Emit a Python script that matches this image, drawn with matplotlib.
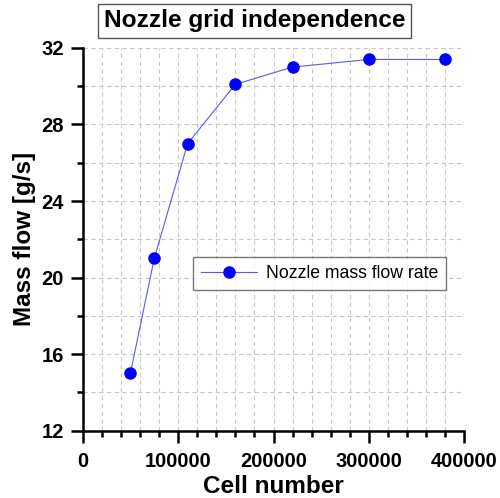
import matplotlib
matplotlib.use("Agg")
import matplotlib.pyplot as plt
from matplotlib.ticker import MultipleLocator

plt.rcParams['font.family'] = ['Liberation Sans', 'DejaVu Sans']

cells = [50000, 75000, 110000, 160000, 220000, 300000, 380000]
mass_flow = [15.0, 21.0, 27.0, 30.1, 31.0, 31.4, 31.4]

fig = plt.figure(figsize=(5.0, 4.98), dpi=100)
ax = fig.add_axes([0.1654, 0.1352, 0.7632, 0.7685])

ax.plot(cells, mass_flow, color='#5a5aee', lw=0.8, marker='o', ms=8,
        markerfacecolor='blue', markeredgecolor='blue', label='Nozzle mass flow rate',
        zorder=3)

ax.set_xlim(0, 400000)
ax.set_ylim(12, 32)
ax.xaxis.set_major_locator(MultipleLocator(100000))
ax.xaxis.set_minor_locator(MultipleLocator(20000))
ax.yaxis.set_major_locator(MultipleLocator(4))
ax.yaxis.set_minor_locator(MultipleLocator(2))

ax.grid(which='both', color='#c8c8c8', linestyle=(0, (4, 3)), lw=0.8)
ax.set_axisbelow(True)

for s in ['top', 'right']:
    ax.spines[s].set_visible(False)
for s in ['left', 'bottom']:
    ax.spines[s].set_linewidth(1.8)

ax.tick_params(which='major', direction='out', length=8.5, width=1.8, labelsize=14.5)
ax.tick_params(which='minor', direction='out', length=4.5, width=1.8)
ax.tick_params(axis='x', which='major', pad=7)
ax.tick_params(axis='y', which='major', pad=5)
for lbl in ax.get_xticklabels() + ax.get_yticklabels():
    lbl.set_fontweight('bold')

ax.set_xlabel('Cell number', fontsize=17.5, fontweight='bold', labelpad=3)
ax.set_ylabel('Mass flow [g/s]', fontsize=17.5, fontweight='bold', labelpad=4)

fig.text(0.509, 0.958, 'Nozzle grid independence', ha='center', va='center',
         fontsize=17.6, fontweight='bold',
         bbox=dict(boxstyle='square,pad=0.22', facecolor='white', edgecolor='#555555', lw=1))

leg = ax.legend(loc='upper left', bbox_to_anchor=(0.289, 0.454), borderaxespad=0,
                fontsize=12.7, frameon=True, fancybox=False, edgecolor='#555555',
                handlelength=3.2, handletextpad=0.5, borderpad=0.45)
leg.get_frame().set_linewidth(1)

fig.savefig('out.png', dpi=100)
